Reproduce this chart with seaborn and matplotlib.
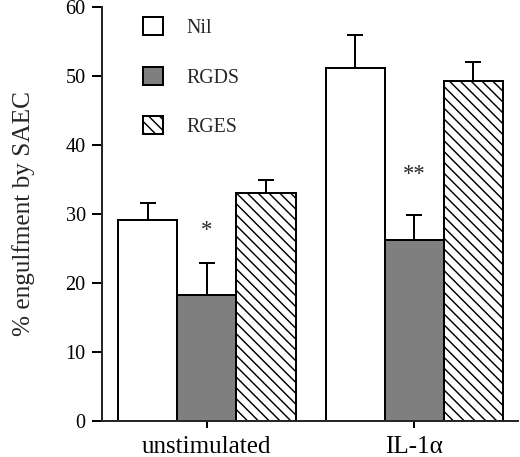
import matplotlib
matplotlib.use("Agg")
import matplotlib.pyplot as plt
import seaborn as sns
import pandas as pd

# ---- data ----
conditions = ["unstimulated", "IL-1\u03b1"]
treatments = ["Nil", "RGDS", "RGES"]
nil_mean = [29.1, 51.1]
rgds_mean = [18.2, 26.2]
rges_mean = [33.1, 49.3]
nil_err = [2.5, 4.9]
rgds_err = [4.7, 3.7]
rges_err = [1.9, 2.8]
stars = ["*", "**"]          # significance marks over RGDS bars
y_ticks = [0, 10, 20, 30, 40, 50, 60]

means = {"Nil": nil_mean, "RGDS": rgds_mean, "RGES": rges_mean}
errs = {"Nil": nil_err, "RGDS": rgds_err, "RGES": rges_err}
rows = []
for t in treatments:
    for c, m in zip(conditions, means[t]):
        rows.append({"condition": c, "treatment": t, "value": m})
df = pd.DataFrame(rows)

sns.set_style("ticks")
plt.rcParams["font.family"] = ["Liberation Serif", "DejaVu Serif"]
plt.rcParams["hatch.linewidth"] = 0.8

DPI = 130
fig = plt.figure(figsize=(520 / DPI, 457 / DPI), dpi=DPI)
W, H = 520, 457
ax = fig.add_axes([102 / W, (H - 421) / H, (518 - 102) / W, (421 - 7) / H])

lw = 1.1
sns.barplot(data=df, x="condition", y="value", hue="treatment",
            order=conditions, hue_order=treatments,
            palette=["white", "#7f7f7f", "white"], edgecolor="black",
            linewidth=lw, width=0.855, gap=0, errorbar=None,
            legend=False, ax=ax, zorder=2)

for bar in ax.containers[2]:
    bar.set_hatch("\\\\\\\\")

# error bars (upward only)
for cont, t in zip(ax.containers, treatments):
    for bar, e in zip(cont, errs[t]):
        xc = bar.get_x() + bar.get_width() / 2
        h = bar.get_height()
        ax.errorbar([xc], [h], yerr=[[0], [e]], fmt="none", ecolor="black",
                    elinewidth=lw, capsize=4.2, capthick=lw, zorder=3)

# significance stars over RGDS bars
offs = [18, 22]
for bar, e, s, o in zip(ax.containers[1], rgds_err, stars, offs):
    xc = bar.get_x() + bar.get_width() / 2
    ax.annotate(s, (xc, bar.get_height() + e), xytext=(0, o),
                textcoords="offset points", ha="center", va="center",
                fontsize=12.5, family=["Liberation Serif"])

ax.set_ylim(0, 60)
ax.set_xlim(-0.506, 1.5)
ax.set_yticks(y_ticks)
ax.set_yticklabels([str(v) for v in y_ticks])
ax.set_xlabel("")
ax.set_ylabel("% engulfment by SAEC", fontsize=14, labelpad=17)
sns.despine(ax=ax)
for sp in ("left", "bottom"):
    ax.spines[sp].set_linewidth(lw)
ax.tick_params(axis="y", direction="out", length=5.5, width=lw,
               labelsize=11.2, pad=3.5, colors="black")
ax.tick_params(axis="x", direction="out", length=4, width=lw,
               labelsize=13.9, pad=4.5, colors="black")

ax.legend(handles=list(ax.containers), labels=treatments,
          loc="upper left", bbox_to_anchor=(0.098, 0.975), frameon=False,
          fontsize=11, handlelength=1.0, handleheight=1.0,
          labelspacing=1.45, handletextpad=1.2, borderpad=0,
          borderaxespad=0)

fig.savefig("out.png", dpi=DPI)
